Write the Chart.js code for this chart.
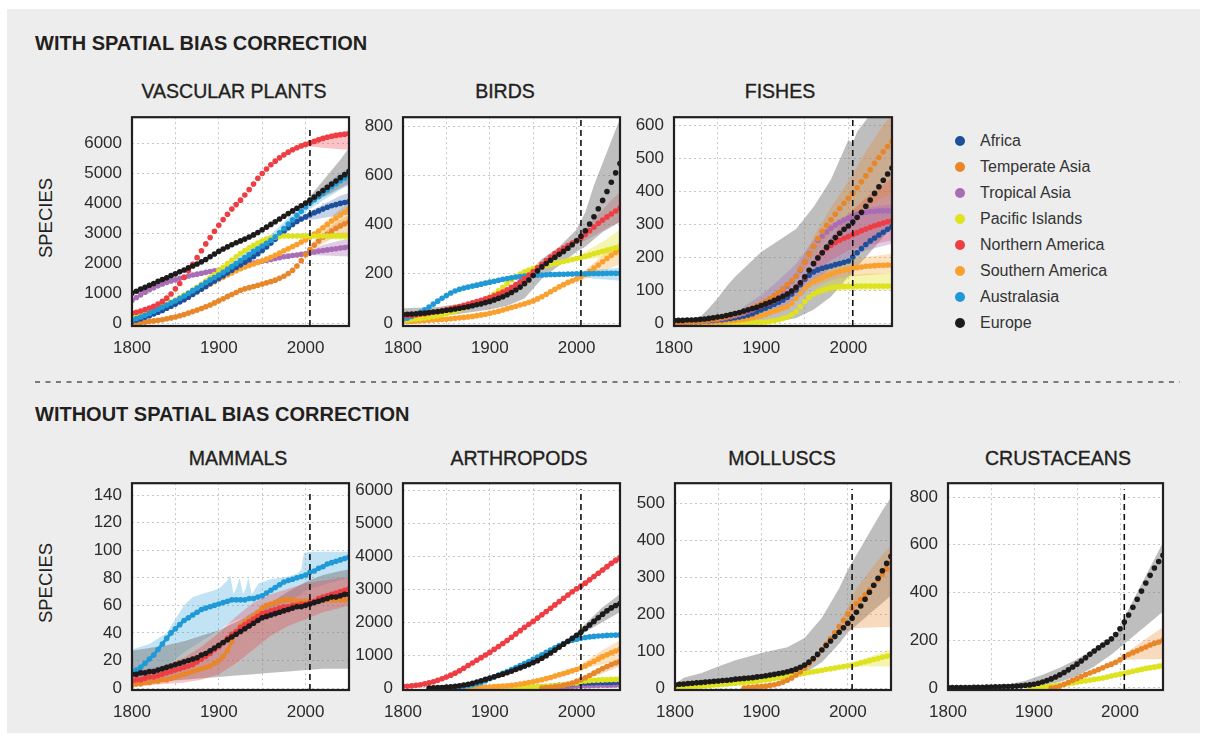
<!DOCTYPE html>
<html><head><meta charset="utf-8">
<script src="https://cdn.jsdelivr.net/npm/chart.js@4.4.1/dist/chart.umd.min.js"></script>
<style>
body{margin:0;width:1208px;height:736px;background:#fff;position:relative;overflow:hidden;font-family:"Liberation Sans",Arial,sans-serif;color:#231f20;}
#bg{position:absolute;left:7px;top:9px;width:1193px;height:724px;background:#ededed;}
.t{position:absolute;white-space:nowrap;line-height:1;}
.main{font-weight:bold;font-size:20px;transform:translateY(-50%);}
.sub{font-size:19.5px;transform:translate(-50%,-50%);-webkit-text-stroke:0.35px #231f20;}
.spec{font-size:18.5px;transform:translate(-50%,-50%) rotate(-90deg);}
.leg{font-size:16px;color:#333;transform:translateY(-50%);}
.dot{position:absolute;width:10px;height:10px;border-radius:50%;transform:translate(-50%,-50%);}
canvas{position:absolute;}
svg{position:absolute;left:0;top:0;}
</style></head>
<body>
<div id="bg"></div>
<svg width="1208" height="736"><line x1="35" y1="382" x2="1180" y2="382" stroke="#555" stroke-width="1.3" stroke-dasharray="5 5.5"/></svg>
<div class="t main" style="left:35px;top:43px">WITH SPATIAL BIAS CORRECTION</div>
<div class="t main" style="left:35px;top:414px">WITHOUT SPATIAL BIAS CORRECTION</div>
<div class="t sub" style="left:234px;top:92px">VASCULAR PLANTS</div>
<div class="t sub" style="left:505px;top:92px">BIRDS</div>
<div class="t sub" style="left:780px;top:92px">FISHES</div>
<div class="t sub" style="left:238px;top:459px">MAMMALS</div>
<div class="t sub" style="left:519px;top:459px">ARTHROPODS</div>
<div class="t sub" style="left:782px;top:459px">MOLLUSCS</div>
<div class="t sub" style="left:1058px;top:459px">CRUSTACEANS</div>
<div class="t spec" style="left:46px;top:218px">SPECIES</div>
<div class="t spec" style="left:46px;top:583px">SPECIES</div>
<div id="legend"></div>
<script>
// ---------- DATA ----------
const years = [1800,1805,1810,1815,1820,1825,1830,1835,1840,1845,1850,1855,1860,1865,1870,1875,1880,1885,1890,1895,1900,1905,1910,1915,1920,1925,1930,1935,1940,1945,1950,1955,1960,1965,1970,1975,1980,1985,1990,1995,2000,2005,2010,2015,2020,2025,2030,2035,2040,2045,2050];
const cutoffYear = 2005;
const regions = ["Africa","Temperate Asia","Tropical Asia","Pacific Islands","Northern America","Southern America","Australasia","Europe"];
const late6 = [2000,2010,2020,2030,2040,2050];
const xTickYears = [1800,1850,1900,1950,2000,2050];
const xLabelYears = [1800,1900,2000];
const plantsTicks = [0,1000,2000,3000,4000,5000,6000];
const birdsTicks = [0,200,400,600,800];
const fishTicks = [0,100,200,300,400,500,600];
const mamTicks = [0,20,40,60,80,100,120,140];
const arthTicks = [0,1000,2000,3000,4000,5000,6000];
const mollTicks = [0,100,200,300,400,500];
const crusTicks = [0,200,400,600,800];

// Vascular plants
const plants_africa = [60,100,140,190,240,300,360,420,490,560,630,700,780,860,950,1040,1130,1220,1310,1400,1490,1580,1670,1760,1850,1940,2030,2120,2210,2310,2420,2540,2670,2800,2930,3060,3180,3290,3390,3470,3540,3610,3680,3740,3800,3860,3910,3950,3990,4020,4050];
const plants_tempAsia = [0,10,20,30,50,70,90,110,140,170,200,240,280,330,380,430,480,540,600,670,740,810,880,950,1020,1090,1140,1180,1220,1260,1300,1340,1380,1430,1490,1560,1650,1760,1900,2080,2280,2450,2600,2740,2860,2970,3070,3160,3240,3310,3380];
const plants_tropAsia = [760,850,940,1030,1110,1180,1240,1300,1350,1400,1440,1490,1530,1570,1600,1630,1660,1690,1720,1740,1760,1790,1820,1850,1880,1910,1940,1970,2000,2030,2060,2090,2120,2150,2180,2210,2230,2250,2270,2290,2310,2340,2370,2400,2420,2440,2460,2480,2500,2520,2540];
const plants_pacific = [180,220,270,320,380,440,500,560,630,700,770,850,930,1010,1100,1190,1290,1400,1510,1620,1740,1860,1980,2100,2210,2320,2420,2510,2590,2670,2740,2800,2840,2870,2890,2900,2900,2900,2900,2900,2900,2900,2900,2900,2900,2900,2900,2900,2900,2900,2900];
const plants_nAmerica = [330,360,400,450,500,560,630,720,830,970,1140,1320,1520,1740,1960,2180,2410,2640,2850,3060,3260,3450,3630,3800,3950,4100,4270,4450,4640,4830,4990,5140,5280,5400,5510,5610,5700,5780,5850,5910,5960,6010,6060,6110,6160,6200,6230,6260,6280,6300,6320];
const plants_sAmerica = [180,220,260,310,360,410,460,510,570,630,690,760,830,900,980,1060,1140,1220,1300,1380,1460,1530,1600,1670,1740,1810,1870,1920,1970,2020,2070,2130,2190,2260,2330,2410,2480,2550,2620,2700,2780,2870,2970,3070,3180,3290,3400,3500,3600,3700,3800];
const plants_australasia = [100,150,200,260,320,390,460,530,600,670,740,820,900,990,1080,1170,1260,1350,1440,1520,1600,1690,1780,1880,1980,2080,2180,2280,2390,2480,2570,2660,2760,2880,3010,3150,3300,3440,3590,3730,3870,4000,4110,4220,4330,4440,4550,4650,4750,4840,4930];
const plants_europe = [1000,1060,1130,1190,1260,1320,1390,1450,1510,1580,1640,1710,1770,1840,1900,1970,2040,2120,2210,2300,2390,2470,2540,2610,2680,2740,2800,2870,2940,3020,3110,3200,3290,3380,3470,3560,3650,3740,3830,3910,4000,4100,4200,4310,4420,4530,4640,4740,4850,4950,5050];
const plantsBand_eur_lo = [3950,4050,4200,4350,4500,4650];
const plantsBand_eur_hi = [4050,4400,4750,5100,5450,5850];
const plantsBand_nam_lo = [5900,5870,5850,5820,5800,5780];
const plantsBand_nam_hi = [6000,6150,6250,6320,6380,6420];
const plantsBand_aus_x = [1880,1900,1920,1940,1960,1980,2000,2020,2040,2050];
const plantsBand_aus_lo = [1150,1450,1800,2150,2550,3050,3700,4100,4450,4600];
const plantsBand_aus_hi = [1350,1800,2250,2650,2950,3500,4050,4550,5000,5200];
const plantsBand_afr_lo = [3450,3450,3500,3550,3600,3600];
const plantsBand_afr_hi = [3620,3800,3950,4100,4250,4350];
const plantsBand_ta_lo = [2200,2450,2650,2800,2900,2950];
const plantsBand_ta_hi = [2350,2750,3000,3250,3450,3600];
const plantsBand_trop_lo = [2280,2260,2250,2240,2230,2220];
const plantsBand_trop_hi = [2340,2480,2600,2680,2750,2800];
const plantsBand_pac_lo = [2880,2850,2820,2800,2780,2760];
const plantsBand_pac_hi = [2920,2950,2980,3000,3020,3040];
const plantsBand_sam_lo = [2750,2850,3000,3150,3300,3450];
const plantsBand_sam_hi = [2800,3050,3300,3550,3800,4000];

// Birds
const birds_europe = [35,36,37,38,40,41,43,45,47,49,52,54,57,60,63,66,70,74,78,83,88,94,100,107,115,124,134,146,160,175,193,212,228,242,255,267,279,291,304,318,334,352,375,402,432,464,498,534,572,610,648];
const birds_nAmerica = [28,30,32,34,36,38,41,44,47,51,55,59,63,67,72,77,82,87,92,98,104,111,118,126,135,145,156,168,181,195,209,224,239,254,268,282,294,305,315,325,334,345,360,375,390,405,418,431,443,455,467];
const birds_pacific = [10,12,14,16,18,21,24,27,30,34,38,43,48,54,60,66,72,79,87,96,106,118,131,145,160,175,188,199,208,215,221,226,230,234,238,242,246,250,254,258,262,266,271,276,281,286,291,296,301,306,311];
const birds_australasia = [15,20,27,35,44,54,65,77,89,101,112,122,130,137,142,146,150,154,158,162,166,170,174,178,181,184,187,189,191,192,193,194,195,196,197,197,198,198,199,199,200,200,200,201,201,201,201,202,202,202,202];
const birds_sAmerica = [5,6,7,8,9,10,11,12,13,14,15,17,19,21,23,25,27,30,33,36,40,44,48,53,58,63,68,73,78,84,90,98,107,117,127,137,147,156,165,172,179,187,198,210,223,236,249,262,275,288,301];
const birdsBand_eur_x = [1800,1820,1840,1860,1880,1900,1920,1940,1960,1980,2000,2010,2020,2030,2040,2050];
const birdsBand_eur_lo = [20,25,30,35,45,55,70,100,180,235,290,310,340,370,390,410];
const birdsBand_eur_hi = [60,62,65,75,85,110,140,190,260,310,380,450,560,650,740,830];
const birdsBand_nam_lo = [320,335,355,375,395,410];
const birdsBand_nam_hi = [345,385,425,460,500,530];
const birdsBand_pac_lo = [255,258,262,266,270,275];
const birdsBand_pac_hi = [270,290,310,330,355,380];
const birdsBand_aus_lo = [190,185,180,178,175,172];
const birdsBand_aus_hi = [205,210,215,218,222,225];
const birdsBand_sam_lo = [170,180,195,210,225,240];
const birdsBand_sam_hi = [185,215,245,275,300,330];

// Fishes
const fish_tempAsia = [2,2,3,3,4,5,6,7,9,11,13,16,19,22,26,30,35,40,46,52,59,66,74,83,93,104,116,128,142,163,185,208,232,256,278,296,313,330,347,363,378,393,410,428,446,465,484,502,519,535,550];
const fish_tropAsia = [1,1,2,2,3,4,5,6,7,9,11,13,16,19,22,26,30,35,40,47,55,62,70,79,89,100,112,126,142,160,185,210,232,250,264,276,287,297,305,312,318,324,329,333,336,338,339,340,340,340,340];
const fish_europe = [8,8,8,9,9,10,11,12,14,16,18,20,23,26,29,32,36,40,44,48,53,58,63,69,75,81,88,97,108,122,140,160,180,197,213,230,245,259,272,284,294,306,320,336,354,373,393,413,433,452,470];
const fish_nAmerica = [5,5,6,6,7,8,9,10,12,14,16,18,21,24,27,30,34,38,42,47,52,57,62,68,74,81,89,98,109,122,138,160,180,199,214,226,236,244,251,257,262,268,274,280,285,290,295,299,303,307,310];
const fish_africa = [2,2,3,3,4,4,5,6,7,8,9,10,12,14,16,18,21,24,28,34,40,45,51,57,63,70,78,88,100,116,133,145,155,161,166,170,173,177,180,184,188,200,213,226,238,249,258,267,275,284,292];
const fish_sAmerica = [1,1,1,1,2,2,2,3,3,4,4,5,6,7,8,9,11,13,16,19,22,26,31,36,40,45,50,60,75,90,105,116,125,131,137,143,148,153,157,160,163,166,168,170,172,173,174,175,175,176,176];
const fish_pacific = [0,0,0,0,0,0,0,0,0,0,0,0,0,0,0,1,1,1,1,2,2,3,5,7,10,14,18,25,35,50,65,78,88,95,100,104,107,109,110,111,111,111,112,112,112,112,112,112,112,112,112];
const fishBand_eur_x = [1800,1820,1830,1840,1850,1860,1870,1880,1890,1900,1920,1940,1960,1980,1990,2000,2005,2010,2020,2030,2040,2050];
const fishBand_eur_lo = [0,0,0,0,0,0,0,0,0,0,5,15,40,80,110,140,150,170,200,230,260,290];
const fishBand_eur_hi = [10,12,18,45,75,110,140,165,190,215,250,285,352,435,495,555,545,580,615,650,700,750];
const fishBand_ta_x = [1940,1960,1980,2000,2020,2040,2050];
const fishBand_ta_lo = [130,200,270,320,350,380,390];
const fishBand_ta_hi = [160,260,350,430,520,600,630];
const fishBand_trop_x = [1880,1900,1920,1940,1960,1980,2000,2020,2050];
const fishBand_trop_lo = [20,30,45,70,120,170,200,220,240];
const fishBand_trop_hi = [50,85,130,180,250,300,330,350,360];
const fishBand_nam_x = [1960,1980,2000,2020,2040,2050];
const fishBand_nam_lo = [150,190,220,235,245,250];
const fishBand_nam_hi = [190,260,330,380,420,440];
const fishBand_sp_x = [1960,1980,2000,2020,2050];
const fishBand_sam_lo = [110,130,140,145,150];
const fishBand_sam_hi = [140,170,190,200,210];
const fishBand_pac_lo = [80,95,100,100,100];
const fishBand_pac_hi = [100,130,145,150,150];

// Mammals
const mam_australasia = [12,13,15,18,21,24,28,32,36,40,43,46,49,51,53,55,57,58,59,60,61,62,63,64,64,64,64,65,65,66,67,69,71,73,75,77,78,79,80,81,82,84,85,87,88,90,91,92,93,94,95];
const mam_europe = [10,10,11,11,12,12,13,14,15,16,17,18,19,20,21,22,24,25,27,29,31,33,35,37,39,41,43,45,47,49,51,52,53,54,55,56,57,58,59,59,60,61,62,63,64,65,66,66,67,68,68];
const mam_nAmerica = [5,6,6,7,8,8,9,10,11,12,13,14,15,16,17,19,21,23,25,28,30,33,36,39,41,44,46,48,50,52,54,55,56,57,58,59,59,60,60,61,61,62,63,65,66,67,68,69,70,71,72];
const mam_tempAsia = [2,3,3,4,4,5,5,6,6,7,8,9,10,11,12,13,14,15,16,18,20,23,27,34,41,45,48,50,52,55,58,60,61,62,63,64,64,64,63,63,63,63,63,63,64,64,64,64,64,64,65];
const mamBand_eur_x = [1800,1820,1840,1860,1880,1900,1920,1940,1960,1980,2000,2020,2040,2050];
const mamBand_eur_lo = [3,4,5,6,7,8,9,10,11,12,13,14,14,14];
const mamBand_eur_hi = [27,29,31,34,38,42,48,55,62,70,77,82,85,86];
const mamBand_aus_x = [1800,1820,1840,1860,1870,1880,1890,1900,1905,1910,1913,1917,1920,1924,1928,1931,1934,1938,1942,1946,1960,1980,1990,1995,1998,2005,2050];
const mamBand_aus_lo = [5,9,16,26,30,34,38,42,44,46,47,48,49,50,51,52,52,53,54,55,58,63,66,68,70,72,80];
const mamBand_aus_hi = [28,32,40,60,66,68,70,72,75,78,82,68,72,80,68,72,80,68,72,76,79,81,83,86,98,99,99];
const mamBand_nam_x = [1800,1820,1840,1860,1880,1900,1920,1940,1960,1980,2000,2020,2040,2050];
const mamBand_nam_lo = [1,2,3,4,6,10,18,28,38,45,50,55,58,60];
const mamBand_nam_hi = [12,14,17,22,30,40,52,62,68,72,76,78,80,80];

// Arthropods
const arth_nAmerica = [50,55,65,80,100,125,155,190,235,280,330,390,450,520,600,680,760,840,920,1000,1080,1170,1260,1350,1440,1540,1640,1740,1840,1930,2020,2120,2220,2320,2420,2520,2620,2720,2820,2920,3010,3090,3180,3280,3380,3480,3580,3680,3780,3870,3950];
const arth_europe = [null,null,null,null,null,null,0,5,10,15,25,35,50,70,90,115,145,180,220,260,300,340,380,420,460,510,560,610,660,710,770,830,900,980,1060,1150,1240,1330,1420,1510,1600,1690,1800,1910,2020,2130,2240,2340,2430,2500,2560];
const arth_australasia = [null,null,null,null,null,null,null,null,0,5,10,18,28,40,55,75,100,130,170,220,280,335,390,445,500,560,620,680,740,800,870,940,1010,1080,1150,1220,1290,1350,1410,1450,1480,1510,1530,1550,1565,1575,1585,1595,1600,1605,1610];
const arth_sAmerica = [null,null,null,null,null,null,null,null,null,null,null,null,null,null,0,5,10,15,20,25,30,40,50,60,70,85,100,120,140,165,190,220,250,285,320,360,400,440,480,520,560,610,670,740,810,880,950,1010,1070,1120,1170];
const arth_tempAsia = [null,null,null,null,null,null,null,null,null,null,null,null,null,null,null,null,null,null,null,null,null,null,null,null,null,null,null,null,null,null,null,null,0,10,20,35,55,80,110,150,200,250,310,380,450,520,590,650,710,760,810];
const arth_pacific = [null,null,null,null,null,null,null,null,null,null,null,null,null,null,null,null,null,null,null,null,0,2,4,6,8,10,13,16,20,25,30,36,42,50,58,66,80,95,115,135,150,200,215,225,235,240,245,250,253,256,260];
const arth_tropAsia = [null,null,null,null,null,null,null,null,null,null,null,null,null,null,null,null,null,null,null,null,null,null,null,null,null,null,null,null,null,null,0,3,6,10,14,19,24,30,38,46,55,60,65,70,74,78,82,85,88,90,92];
const arth_africa = [null,null,null,null,null,null,null,null,null,null,null,null,null,null,null,null,null,null,null,null,null,null,null,null,null,null,0,5,10,15,20,28,36,45,55,65,78,92,108,124,140,148,154,158,162,165,167,169,170,171,172];
const arthBand_x7 = [1990,2000,2010,2020,2030,2040,2050];
const arthBand_eur_lo = [1400,1550,1700,1850,2000,2150,2300];
const arthBand_eur_hi = [1450,1680,1950,2200,2450,2650,2850];
const arthBand_sam_lo = [470,540,600,660,720,780,840];
const arthBand_sam_hi = [500,620,800,980,1150,1300,1450];
const arthBand_ta_lo = [150,250,350,450,550,650];
const arthBand_ta_hi = [250,380,520,650,780,900];
const arthBand_pac_lo = [100,130,150,170,180,190];
const arthBand_pac_hi = [200,260,300,330,350,360];
const arthBand_nam_x = [2000,2025,2050];
const arthBand_nam_lo = [2980,3420,3850];
const arthBand_nam_hi = [3060,3560,4080];

// Molluscs
const moll_europe = [9,10,11,12,13,14,15,16,17,18,19,20,21,22,24,25,26,27,28,30,31,33,35,37,39,41,44,47,51,56,62,70,80,91,103,115,127,139,151,163,175,189,205,222,240,259,278,297,317,337,356];
const moll_tempAsia = [null,null,null,null,null,null,null,null,null,null,null,null,null,null,null,null,0,1,2,3,4,5,7,9,12,16,21,27,35,44,54,65,77,90,104,119,134,150,166,183,200,215,228,240,252,265,278,292,307,322,338];
const moll_pacific = [2,3,3,4,4,5,5,6,7,8,9,10,11,12,13,14,15,16,17,18,20,22,24,26,28,30,32,34,36,38,40,42,44,46,48,50,52,54,56,58,60,62,65,68,71,74,77,80,83,86,88];
const mollBand_eur_x = [1800,1810,1830,1850,1870,1900,1930,1950,1970,1990,2000,2010,2020,2030,2040,2050];
const mollBand_eur_lo = [0,2,3,5,8,15,25,40,70,120,150,170,190,210,230,250];
const mollBand_eur_hi = [10,28,40,58,75,95,110,135,190,270,320,360,400,440,480,515];
const mollBand_ta_x = [1990,2000,2005,2010,2020,2030,2040,2050];
const mollBand_ta_lo = [150,155,160,162,163,164,165,165];
const mollBand_ta_hi = [175,220,245,270,300,330,360,385];
const mollBand_pac_lo = [55,57,58,58,58,58];
const mollBand_pac_hi = [65,72,80,88,96,105];

// Crustaceans
const crus_europe = [2,2,2,2,2,2,3,3,3,4,4,5,5,6,6,7,8,9,11,13,16,20,25,31,38,46,55,65,76,88,100,113,127,141,155,168,180,192,206,224,248,276,306,338,372,406,440,472,503,530,556];
const crus_tempAsia = [null,null,null,null,null,null,null,null,null,null,null,null,null,null,null,null,null,null,null,null,null,null,null,null,0,2,8,16,24,32,40,48,56,63,70,77,85,93,100,108,118,132,140,148,156,164,172,180,187,193,200];
const crus_pacific = [null,null,null,null,null,null,null,null,null,null,null,null,null,null,null,null,null,null,null,0,1,2,4,6,8,10,12,15,18,21,24,27,30,33,36,39,42,46,50,54,58,62,66,70,74,78,82,85,88,91,94];
const crusBand_eur_x = [1850,1870,1890,1910,1930,1950,1970,1990,2000,2010,2020,2030,2040,2050];
const crusBand_eur_lo = [0,2,5,10,25,50,90,140,170,200,230,260,290,320];
const crusBand_eur_hi = [5,15,30,55,85,120,165,200,250,330,400,470,540,610];
const crusBand_ta_lo = [115,118,120,120,120,120];
const crusBand_ta_hi = [125,155,180,205,230,255];
const crusBand_pac_lo = [55,60,65,70,75,80];
const crusBand_pac_hi = [62,72,82,92,100,108];

// ---------- STYLE ----------
const COL = {afr:'#1d4f9a', ta:'#e8862a', trop:'#a96db5', pac:'#dfe21e', nam:'#ee3d43', sam:'#f9a02f', aus:'#1f9ad6', eur:'#1c1a1b'};
const BAND = {eur:'rgba(125,125,125,0.5)', afr:'rgba(29,79,154,0.25)', ta:'rgba(232,134,42,0.3)', trop:'rgba(169,109,181,0.35)',
  pac:'rgba(223,226,30,0.35)', nam:'rgba(238,61,67,0.3)', sam:'rgba(249,160,47,0.3)', aus:'rgba(31,154,214,0.28)'};
const legendKeys = ['afr','ta','trop','pac','nam','sam','aus','eur'];
const FONT = '"Liberation Sans", Arial, sans-serif';

// legend (HTML)
(function(){
  const lg = document.getElementById('legend');
  regions.forEach((name,i)=>{
    const y = 140.7 + 26.1*i;
    const d = document.createElement('div'); d.className='dot';
    d.style.left='960px'; d.style.top=y+'px'; d.style.background=COL[legendKeys[i]];
    lg.appendChild(d);
    const t = document.createElement('div'); t.className='t leg';
    t.style.left='980px'; t.style.top=y+'px'; t.textContent=name;
    lg.appendChild(t);
  });
})();

function pts(xs, ys){ return xs.map((x,i)=>({x:x, y:ys[i]})); }
function series(vals, key, joined){
  return {data:pts(years, vals), showLine:!!joined, borderColor:COL[key], backgroundColor:COL[key],
    borderWidth: joined?3:0, pointRadius:2.8, pointBorderWidth:0, pointBackgroundColor:COL[key],
    fill:false, spanGaps:false, order:1};
}
function band(xs, lo, hi, key){
  return [
    {data:pts(xs, lo), showLine:true, borderWidth:0, borderColor:'transparent', pointRadius:0, fill:false, order:3},
    {data:pts(xs, hi), showLine:true, borderWidth:0, borderColor:'transparent', pointRadius:0, fill:'-1', backgroundColor:BAND[key], order:3}
  ];
}

const boxPlugin = {
  id:'boxPlugin',
  beforeDraw(chart){ const a=chart.chartArea, c=chart.ctx; c.save(); c.fillStyle='#fff'; c.fillRect(a.left,a.top,a.right-a.left,a.bottom-a.top); c.restore(); },
  afterDraw(chart){ const a=chart.chartArea, c=chart.ctx; c.save(); c.strokeStyle='#231f20'; c.lineWidth=2.2; c.strokeRect(a.left,a.top,a.right-a.left,a.bottom-a.top); c.restore(); }
};

function makeChart(box, yMin, yMax, yTicks, dashTop, datasets){
  const cv = document.createElement('canvas');
  const W = box.r - box.l + 84, H = box.b - box.t + 60;
  cv.width = W; cv.height = H;
  cv.style.left = (box.l - 70)+'px'; cv.style.top = (box.t - 20)+'px';
  cv.style.width = W+'px'; cv.style.height = H+'px';
  document.body.appendChild(cv);
  datasets.push({data:[{x:cutoffYear,y:yMin},{x:cutoffYear,y:dashTop}], showLine:true, borderColor:'#111', borderWidth:1.6,
    borderDash:[6,4], pointRadius:0, fill:false, order:0});
  const tickFont = {family:FONT, size:17};
  new Chart(cv, {
    type:'line',
    data:{datasets:datasets},
    plugins:[boxPlugin],
    options:{
      responsive:false, animation:false, events:[],
      layout:{padding:{left:0, top:20, right:14, bottom:0}},
      plugins:{legend:{display:false}, tooltip:{enabled:false}},
      elements:{line:{tension:0}},
      scales:{
        x:{type:'linear', min:1800, max:2050, afterFit(s){ s.height = 40; },
           afterBuildTicks(s){ s.ticks = xTickYears.map(v=>({value:v})); },
           ticks:{autoSkip:false, maxRotation:0, padding:12, font:tickFont, color:'#2b2b2b',
                  callback:(v)=> xLabelYears.includes(v) ? String(v) : ''},
           grid:{color:'#c6c6c6', lineWidth:1, drawTicks:false},
           border:{display:false, dash:[2,3]}},
        y:{type:'linear', min:yMin, max:yMax, afterFit(s){ s.width = 70; },
           afterBuildTicks(s){ s.ticks = yTicks.map(v=>({value:v})); },
           ticks:{padding:10, font:tickFont, color:'#2b2b2b', callback:(v)=>String(v)},
           grid:{color:'#c6c6c6', lineWidth:1, drawTicks:false},
           border:{display:false, dash:[2,3]}}
      }
    }
  });
}

// Vascular plants
makeChart({l:132,t:117,r:349,b:326}, -100, 6867, plantsTicks, 6450, [
  series(plants_europe,'eur'), series(plants_nAmerica,'nam'), series(plants_australasia,'aus'),
  series(plants_pacific,'pac'), series(plants_africa,'afr'), series(plants_sAmerica,'sam'),
  series(plants_tempAsia,'ta'), series(plants_tropAsia,'trop'),
  ...band(late6, plantsBand_eur_lo, plantsBand_eur_hi, 'eur'),
  ...band(late6, plantsBand_nam_lo, plantsBand_nam_hi, 'nam'),
  ...band(plantsBand_aus_x, plantsBand_aus_lo, plantsBand_aus_hi, 'aus'),
  ...band(late6, plantsBand_afr_lo, plantsBand_afr_hi, 'afr'),
  ...band(late6, plantsBand_ta_lo, plantsBand_ta_hi, 'ta'),
  ...band(late6, plantsBand_trop_lo, plantsBand_trop_hi, 'trop'),
  ...band(late6, plantsBand_pac_lo, plantsBand_pac_hi, 'pac'),
  ...band(late6, plantsBand_sam_lo, plantsBand_sam_hi, 'sam')
]);
// Birds
makeChart({l:403,t:117,r:620,b:326}, -12, 836, birdsTicks, 830, [
  series(birds_europe,'eur'), series(birds_nAmerica,'nam'), series(birds_australasia,'aus'),
  series(birds_pacific,'pac'), series(birds_sAmerica,'sam'),
  ...band(birdsBand_eur_x, birdsBand_eur_lo, birdsBand_eur_hi, 'eur'),
  ...band(late6, birdsBand_nam_lo, birdsBand_nam_hi, 'nam'),
  ...band(late6, birdsBand_pac_lo, birdsBand_pac_hi, 'pac'),
  ...band(late6, birdsBand_aus_lo, birdsBand_aus_hi, 'aus'),
  ...band(late6, birdsBand_sam_lo, birdsBand_sam_hi, 'sam')
]);
// Fishes
makeChart({l:674,t:117,r:892,b:326}, -9, 624, fishTicks, 624, [
  series(fish_europe,'eur'), series(fish_tempAsia,'ta'), series(fish_tropAsia,'trop'),
  series(fish_nAmerica,'nam'), series(fish_africa,'afr'), series(fish_sAmerica,'sam'), series(fish_pacific,'pac'),
  ...band(fishBand_ta_x, fishBand_ta_lo, fishBand_ta_hi, 'ta'),
  ...band(fishBand_trop_x, fishBand_trop_lo, fishBand_trop_hi, 'trop'),
  ...band(fishBand_nam_x, fishBand_nam_lo, fishBand_nam_hi, 'nam'),
  ...band(fishBand_sp_x, fishBand_sam_lo, fishBand_sam_hi, 'sam'),
  ...band(fishBand_sp_x, fishBand_pac_lo, fishBand_pac_hi, 'pac'),
  ...band(fishBand_eur_x, fishBand_eur_lo, fishBand_eur_hi, 'eur')
]);
// Mammals
makeChart({l:132,t:483,r:349,b:690}, -1.45, 148.7, mamTicks, 144, [
  series(mam_europe,'eur',true), series(mam_nAmerica,'nam',true), series(mam_tempAsia,'ta',true), series(mam_australasia,'aus',true),
  ...band(mamBand_nam_x, mamBand_nam_lo, mamBand_nam_hi, 'nam'),
  ...band(mamBand_eur_x, mamBand_eur_lo, mamBand_eur_hi, 'eur'),
  ...band(mamBand_aus_x, mamBand_aus_lo, mamBand_aus_hi, 'aus')
]);
// Arthropods
makeChart({l:403,t:483,r:620,b:690}, -61, 6212, arthTicks, 6030, [
  series(arth_europe,'eur',true), series(arth_nAmerica,'nam',true), series(arth_australasia,'aus',true),
  series(arth_sAmerica,'sam',true), series(arth_tempAsia,'ta',true), series(arth_pacific,'pac',true),
  series(arth_africa,'afr',true), series(arth_tropAsia,'trop',true),
  ...band(arthBand_x7, arthBand_eur_lo, arthBand_eur_hi, 'eur'),
  ...band(arthBand_x7, arthBand_sam_lo, arthBand_sam_hi, 'sam'),
  ...band(late6, arthBand_ta_lo, arthBand_ta_hi, 'ta'),
  ...band(late6, arthBand_pac_lo, arthBand_pac_hi, 'pac'),
  ...band(arthBand_nam_x, arthBand_nam_lo, arthBand_nam_hi, 'nam')
]);
// Molluscs
makeChart({l:675,t:483,r:891,b:690}, -5.4, 554, mollTicks, 538, [
  series(moll_europe,'eur'), series(moll_tempAsia,'ta'), series(moll_pacific,'pac'),
  ...band(mollBand_ta_x, mollBand_ta_lo, mollBand_ta_hi, 'ta'),
  ...band(late6, mollBand_pac_lo, mollBand_pac_hi, 'pac'),
  ...band(mollBand_eur_x, mollBand_eur_lo, mollBand_eur_hi, 'eur')
]);
// Crustaceans
makeChart({l:948,t:483,r:1163,b:690}, -8.4, 858, crusTicks, 833, [
  series(crus_europe,'eur'), series(crus_tempAsia,'ta'), series(crus_pacific,'pac'),
  ...band(late6, crusBand_ta_lo, crusBand_ta_hi, 'ta'),
  ...band(late6, crusBand_pac_lo, crusBand_pac_hi, 'pac'),
  ...band(crusBand_eur_x, crusBand_eur_lo, crusBand_eur_hi, 'eur')
]);
</script>
</body></html>
